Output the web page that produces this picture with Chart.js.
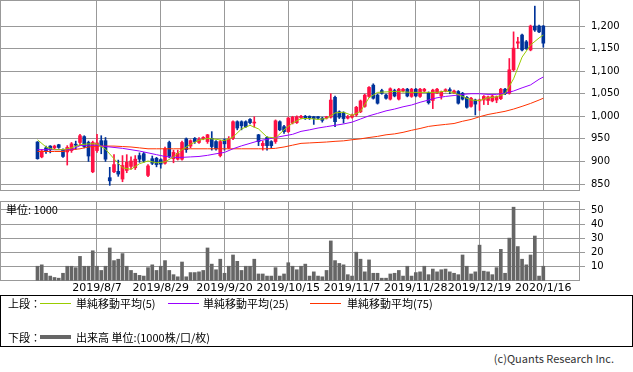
<!DOCTYPE html>
<html>
<head>
<meta charset="utf-8">
<script src="https://cdn.jsdelivr.net/npm/chart.js@4.4.1/dist/chart.umd.min.js"></script>
<style>
  body { margin: 0; background: #fff; width: 633px; height: 372px; position: relative; overflow: hidden;
         font-family: "Noto Sans CJK JP", sans-serif; }
  canvas { position: absolute; left: 0; }
  #price { top: 0; }
  #vol { top: 200px; }
  .t { position: absolute; font-size: 11px; line-height: 14px; white-space: nowrap; color: #000; }
  .sw { position: absolute; height: 1px; width: 31px; }
  #legend { position: absolute; left: 0; top: 295px; width: 633px; height: 52px; box-sizing: border-box;
            border: 1px solid #000; }
</style>
</head>
<body>
<canvas id="price" width="633" height="191"></canvas>
<canvas id="vol" width="633" height="100"></canvas>
<div class="t" style="left:6px;top:202px">単位: 1000</div>
<div id="legend"></div>
<div class="t" style="left:8px;top:296px">上段：</div>
<div class="sw" style="left:40px;top:303px;background:#99cc00"></div>
<div class="t" style="left:76px;top:296px">単純移動平均(5)</div>
<div class="sw" style="left:168px;top:303px;background:#9900ff"></div>
<div class="t" style="left:203px;top:296px">単純移動平均(25)</div>
<div class="sw" style="left:310px;top:303px;background:#ff3300"></div>
<div class="t" style="left:347px;top:296px">単純移動平均(75)</div>
<div class="t" style="left:8px;top:330px">下段：</div>
<div class="sw" style="left:40px;top:335px;height:4px;background:#666"></div>
<div class="t" style="left:76px;top:330px">出来高 単位:(1000株/口/枚)</div>
<div class="t" style="right:19px;top:351px;color:#333">(c)Quants Research Inc.</div>

<script>
// daily candles, index 0 = first trading day shown
const openP = [943,910,930,934,930,937,926,921,924,937, 942,955,942,877,924,946,946,864,877,878,
  861,880,889,886,913,917,869,906,907,904, 896,942,906,905,905,950,934,951,942,951,
  944,951,944,913,948,930,951,988,988,988, 993,985,959,935,953,944,944,988,977,966,
  985,986,997,1000,1000,999,999,996,996,998, 1042,1010,1008,996,998,1003,1010,1022,1044,1069,
  1047,1057,1047,1038,1057,1038,1056,1060,1044,1060, 1044,1056,1052,1035,1052,1045,1056,1059,1052,1055,
  1051,1042,1022,1036,1034,1036,1035,1034,1036,1039, 1060,1051,1103,1162,1180,1165,1147,1200,1200,1200];
const highP = [944,926,934,935,936,938,928,935,942,945, 960,957,945,945,960,957,953,887,915,903,
  913,915,910,913,919,920,893,912,909,906, 932,945,925,925,945,952,948,953,953,955,
  960,966,946,947,950,955,990,990,990,990, 995,999,960,945,955,946,992,990,980,998,
  1000,1001,1002,1002,1001,1000,1000,998,1000,1050, 1045,1012,1010,1002,1005,1022,1036,1049,1066,1072,
  1049,1060,1049,1063,1060,1062,1062,1062,1062,1062, 1062,1062,1054,1060,1062,1056,1061,1063,1058,1057,
  1053,1044,1042,1038,1038,1046,1045,1047,1045,1062, 1062,1128,1187,1175,1182,1168,1202,1244,1202,1201];
const lowP = [905,908,918,919,928,929,909,892,920,927, 935,930,900,875,920,917,900,847,875,867,
  855,875,883,882,898,898,866,893,888,885, 894,908,897,903,903,920,930,940,940,948,
  940,925,925,910,925,928,948,970,970,975, 983,976,935,925,925,930,940,968,962,964,
  983,984,994,993,993,982,994,987,994,996, 977,995,985,994,996,1000,1008,1020,1042,1038,
  1027,1049,1038,1036,1043,1036,1054,1043,1042,1043, 1042,1054,1027,1017,1050,1038,1054,1050,1050,1027,
  1036,1018,1020,1003,1013,1026,1026,1032,1030,1037, 1048,1049,1100,1150,1145,1148,1145,1188,1185,1153];
const closeP = [906,923,923,926,934,931,911,931,939,936, 957,933,912,942,941,935,905,857,893,872,
  891,898,901,905,905,902,890,896,893,894, 928,911,920,918,942,926,946,944,949,953,
  959,933,928,944,939,950,988,974,979,977, 986,987,944,940,935,935,990,970,966,996,
  998,999,1000,996,996,995,996,991,999,1036, 988,998,995,999,1002,1020,1034,1047,1064,1040,
  1029,1051,1040,1061,1045,1060,1060,1045,1060,1045, 1060,1060,1030,1058,1060,1054,1059,1056,1056,1029,
  1038,1020,1040,1027,1036,1044,1043,1045,1043,1060, 1050,1103,1151,1165,1147,1150,1200,1191,1187,1162];
// volume, thousands
const volume = [10,11,5,3,2,1.5,5,10,10,9, 17,10,10,21,10,7,10,23,14,15,
  19,10,7,5,3.5,3,9,11,7,10, 14,7,4,2.5,13,2.5,5.5,5.5,6,7,
  23,11.5,7.5,15,5,10,18,13.5,7,10, 10,15,4.5,4.5,3,3,9,3,4.5,12.5,
  10,7.5,10,11.5,3,6,3,2.5,7,28, 14,12,11,4,3,20,15,6,14.5,5,
  5,1.5,1.5,4.5,5,7,3,10,3,5.5, 6,10,4,8,6,7.5,8,6,5,4,
  18,10,4.5,6,25,6.5,6,4,9,22, 5,30,52,24,15,11,18,31.5,3,10];

// moving averages read at every other day
const maIdx = [0,2,4,6,8,10,12,14,16,18, 20,22,24,26,28,30,32,34,36,38, 40,42,44,46,48,50,52,54,56,58,
  60,62,64,66,68,70,72,74,76,78, 80,82,84,86,88,90,92,94,96,98, 100,102,104,106,108,110,112,114,116,118, 119];
const ma5 = [948,932,926,926,930,937,939,939,927,906, 886,882.5,895,901,897,899,910,926,938,947,
  951,949,946,954,972,980,972,954,952,970, 985,995,995,993,995,1007.5,1009,1002,1011,1041,
  1053,1054,1055,1054,1053,1053,1053,1053,1056,1052, 1044,1036,1035,1041,1043,1050,1083,1131,1158,1173.5, 1180];
const ma25 = [926,926,926,926,926,935,936,936,933,931, 929,926,923,919,915,911,909,909,910,911,
  913.5,917,920,928,934.5,940,945.6,949,953,956.6, 960,966.6,970,974,977,980,983,987,994,1001,
  1006.4,1012,1016,1021,1025,1031,1036,1041,1044,1046, 1048.5,1050,1050,1048.5,1048.5,1051,1056,1063,1069.5,1082, 1087];
const ma75 = [922,922,922,922,926,928,932,934,934,934, 933,932,930,928,928,928,928,928,928,928,
  928,928,928,928,928,928,928,928,929,932, 936,940,941,942,943,944.5,945.6,948,950,953,
  955.5,959,961,964.4,969,973,977.6,980,982,984, 989,993,999,1004,1007.5,1011,1016,1022,1028.5,1036, 1040];

const tickDays = [14, 29, 44, 59, 74, 89, 104, 119];
const tickDates = ['2019/8/7', '2019/8/29', '2019/9/20', '2019/10/15', '2019/11/7', '2019/11/28', '2019/12/19', '2020/1/16'];
const priceTicks = [850, 900, 950, 1000, 1050, 1100, 1150, 1200];
const volTicks = [10, 20, 30, 40, 50];

const upColor = '#ff1144';
const downColor = '#003399';
const gridColor = '#999999';
const xMin = -8.82, xMax = 127.63;

const days = openP.map((o, i) => i);
const candleColors = openP.map((o, i) => closeP[i] >= o ? upColor : downColor);

// plain gray frame around each plot area
const framePlugin = {
  id: 'frame',
  beforeDatasetsDraw(chart) {
    const { ctx, chartArea: a } = chart;
    ctx.save();
    ctx.strokeStyle = gridColor;
    ctx.lineWidth = 1;
    ctx.strokeRect(a.left + 0.5, a.top + 0.5, a.right - a.left - 1, a.bottom - a.top - 1);
    ctx.restore();
  }
};

const xScale = (showLabels, height) => ({
  type: 'linear', min: xMin, max: xMax, offset: false,
  afterBuildTicks: s => { s.ticks = tickDays.map(v => ({ value: v })); },
  ticks: {
    display: showLabels, autoSkip: false, maxRotation: 0, minRotation: 0, padding: 1,
    color: '#000', font: { family: 'DejaVu Sans', size: 11 },
    callback: v => tickDates[tickDays.indexOf(v)]
  },
  grid: { color: gridColor, drawTicks: false, offset: false },
  border: { display: false },
  afterFit: s => { s.height = height; s.paddingLeft = 0; s.paddingRight = 0; }
});

const yScale = (min, max, ticks) => ({
  position: 'right', min: min, max: max,
  afterBuildTicks: s => { s.ticks = ticks.map(v => ({ value: v })); },
  ticks: {
    color: '#000', padding: 6, font: { family: 'DejaVu Sans', size: 10 },
    callback: v => v.toLocaleString('en-US')
  },
  grid: { color: gridColor, tickLength: 5 },
  border: { display: false },
  afterFit: s => { s.width = 53; s.paddingTop = 0; s.paddingBottom = 0; }
});

const common = {
  responsive: false, animation: false, devicePixelRatio: 1, events: [],
  plugins: { legend: { display: false }, tooltip: { enabled: false } }
};

new Chart(document.getElementById('price'), {
  type: 'bar',
  data: {
    datasets: [
      { type: 'line', data: maIdx.map((d, k) => ({ x: d, y: ma5[k] })), borderColor: '#99cc00',
        borderWidth: 1, pointRadius: 0, tension: 0, order: 1 },
      { type: 'line', data: maIdx.map((d, k) => ({ x: d, y: ma25[k] })), borderColor: '#9900ff',
        borderWidth: 1, pointRadius: 0, tension: 0, order: 2 },
      { type: 'line', data: maIdx.map((d, k) => ({ x: d, y: ma75[k] })), borderColor: '#ff3300',
        borderWidth: 1, pointRadius: 0, tension: 0, order: 3 },
      { data: days.map(i => ({ x: i, y: [openP[i], closeP[i]] })), backgroundColor: candleColors,
        barThickness: 3, minBarLength: 1, grouped: false, order: 4 },
      { data: days.map(i => ({ x: i, y: [lowP[i], highP[i]] })), backgroundColor: candleColors,
        barThickness: 1, grouped: false, order: 5 }
    ]
  },
  options: {
    ...common,
    layout: { padding: 0 },
    scales: { x: xScale(false, 0), y: yScale(834.5, 1257.6, priceTicks) }
  },
  plugins: [framePlugin]
});

new Chart(document.getElementById('vol'), {
  type: 'bar',
  data: {
    datasets: [
      { data: days.map(i => ({ x: i, y: volume[i] })), backgroundColor: '#666666', barThickness: 3 }
    ]
  },
  options: {
    ...common,
    layout: { padding: { top: 1 } },
    scales: { x: xScale(true, 19), y: yScale(-0.5, 56.4, volTicks) }
  },
  plugins: [framePlugin]
});
</script>
</body>
</html>
